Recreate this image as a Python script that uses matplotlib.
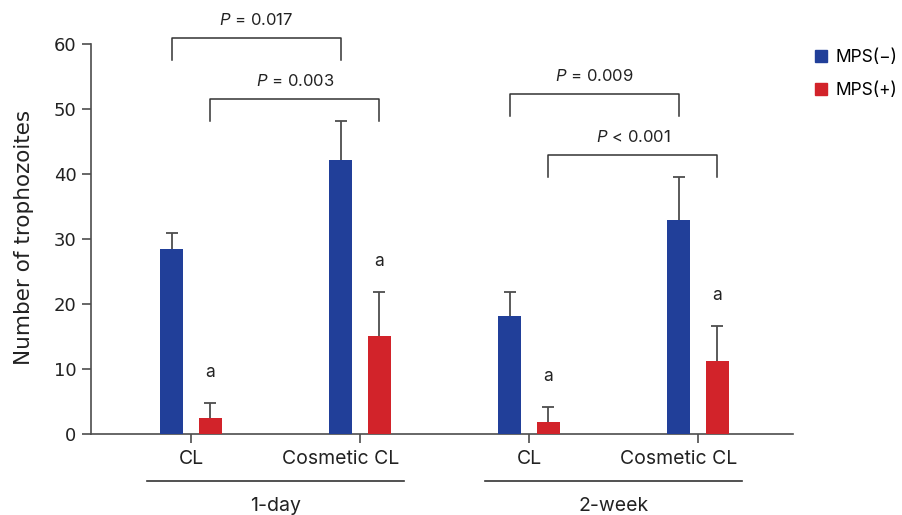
import numpy as np
import matplotlib
import matplotlib.pyplot as plt
from matplotlib.patches import Patch

matplotlib.rcParams['mathtext.fontset'] = 'custom'
matplotlib.rcParams['mathtext.it'] = 'Inter:italic'
matplotlib.rcParams['mathtext.rm'] = 'Inter'

# data
categories = ["CL", "Cosmetic CL", "CL", "Cosmetic CL"]
periods = ["1-day", "2-week"]
mps_neg = [28.5, 42.2, 18.2, 32.9]
mps_neg_sd = [2.5, 6.0, 3.7, 6.6]
mps_pos = [2.5, 15.1, 1.9, 11.2]
mps_pos_sd = [2.2, 6.8, 2.2, 5.4]
# (left group, right group, series, bracket height, p value, sign)
comparisons = [
    (0, 1, "neg", 60.9, "0.017", "="),
    (0, 1, "pos", 51.6, "0.003", "="),
    (2, 3, "neg", 52.3, "0.009", "="),
    (2, 3, "pos", 43.0, "0.001", "<"),
]

BLUE = "#213f99"
RED = "#d2232a"
AXCOL = "#4d4d4d"
TXT = "#222222"
OFF = 0.115
WIDTH = 0.136
# the "Cosmetic CL" labels sit a little left of their ticks in the original
LABEL_SHIFT = [0, -0.112, 0, -0.112]

fig = plt.figure(figsize=(9.02, 5.15), dpi=100)
ax = fig.add_axes([91 / 902, 81 / 515, 702 / 902, 434 / 515])

x = np.arange(len(categories))
ax.bar(x - OFF, mps_neg, WIDTH, color=BLUE, zorder=3)
ax.bar(x + OFF, mps_pos, WIDTH, color=RED, zorder=3)

# upper-only error bars
for pos, m, s in [(x - OFF, mps_neg, mps_neg_sd), (x + OFF, mps_pos, mps_pos_sd)]:
    top = np.array(m) + np.array(s)
    ax.vlines(pos, m, top, color=AXCOL, lw=1.3, zorder=2)
    ax.plot(pos, top, ls="none", marker="_", ms=8, mew=1.3, color=AXCOL, zorder=2)

# significance letters
for xi, m, s in zip(x, mps_pos, mps_pos_sd):
    ax.text(xi + OFF, m + s + 4.7, "a", ha="center", va="center",
            fontsize=12.5, family="Inter", color=TXT)

# brackets
for g0, g1, ser, h, pv, sym in comparisons:
    d = -OFF if ser == "neg" else OFF
    xa, xb = g0 + d, g1 + d
    ax.plot([xa, xa, xb, xb], [h - 3.4, h, h, h - 3.4], color="#333333", lw=1.1,
            clip_on=False)
    ax.text((xa + xb) / 2, h + 2.0, r"$\mathit{P}$ " + sym + " " + pv, ha="center",
            va="baseline", fontsize=12, family="Inter", color=TXT)

ax.set_xlim(-0.592, 3.562)
ax.set_ylim(0, 66.8)
ax.set_yticks(range(0, 61, 10))
ax.set_xticks(x)
ax.set_xticklabels([])
for lab in ax.get_yticklabels():
    lab.set_family("DejaVu Sans")
    lab.set_fontsize(13)
    lab.set_color(TXT)
ax.tick_params(axis="both", length=6.5, width=1.2, color=AXCOL, pad=4)
for side in ["top", "right"]:
    ax.spines[side].set_visible(False)
for side in ["left", "bottom"]:
    ax.spines[side].set_color(AXCOL)
    ax.spines[side].set_linewidth(1.2)
ax.spines["left"].set_bounds(0, 60)

trans = ax.get_xaxis_transform()
for xi, name, sh in zip(x, categories, LABEL_SHIFT):
    ax.text(xi + sh, -0.058, name, transform=trans, ha="center", va="center",
            fontsize=14, family="Inter", color=TXT)

# period underlines and labels
for i, p in enumerate(periods):
    a, b = 2 * i - 0.258, 2 * i + 1 + 0.258
    ax.plot([a, b], [-0.108, -0.108], color="#333333", lw=1.2, transform=trans,
            clip_on=False)
    ax.text((a + b) / 2, -0.165, p, transform=trans, ha="center", va="center",
            fontsize=14, family="Inter", color=TXT)

fig.text(24 / 902, 1 - 237 / 515, "Number of trophozoites", rotation=90,
         ha="center", va="center", fontsize=15.5, family="DejaVu Sans",
         color=TXT)

handles = [Patch(color=BLUE, label="MPS(\u2212)"), Patch(color=RED, label="MPS(+)")]
fig.legend(handles=handles, loc="upper left", bbox_to_anchor=(815 / 902, 1 - 49 / 515),
           frameon=False, borderpad=0, borderaxespad=0, handlelength=0.68,
           handleheight=0.68, handletextpad=0.5, labelspacing=0.95,
           prop={"family": "Inter", "size": 12.5})

fig.savefig("out.png", dpi=100)
